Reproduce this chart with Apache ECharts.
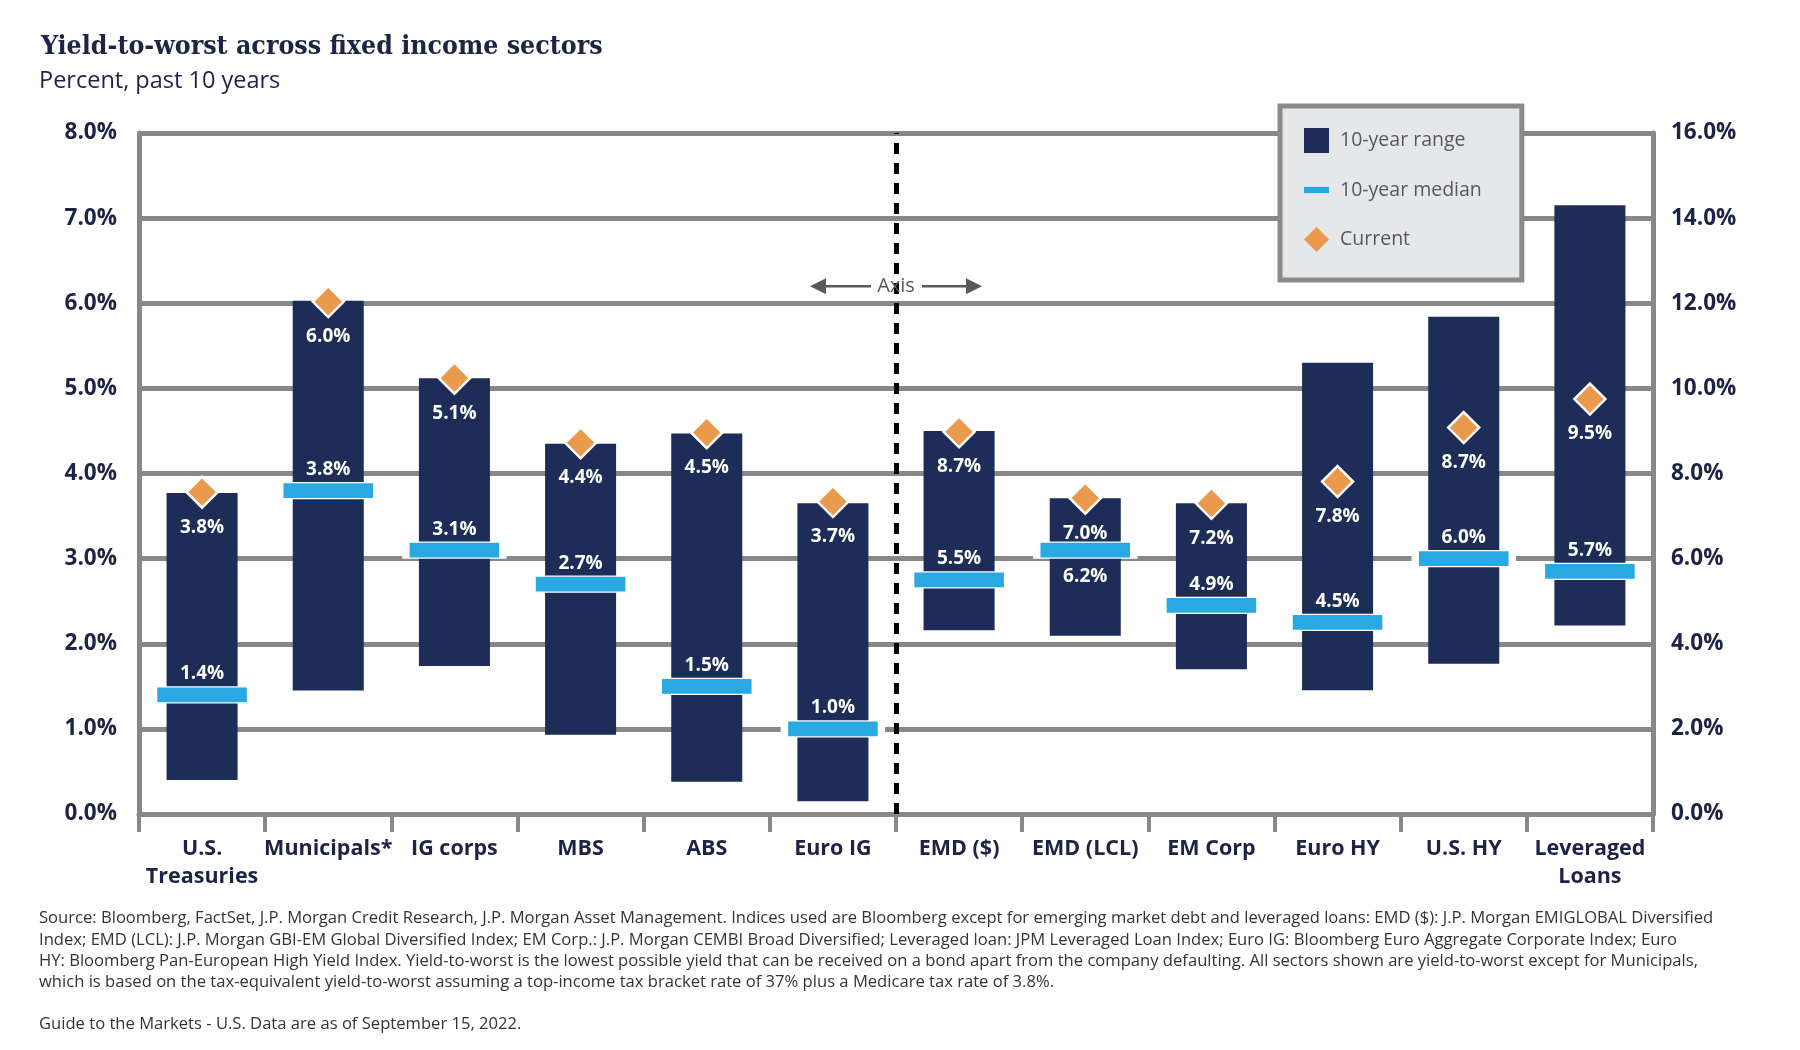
<!DOCTYPE html>
<html>
<head>
<meta charset="utf-8">
<script src="https://cdn.jsdelivr.net/npm/echarts@6/dist/echarts.min.js"></script>
<style>
html,body{margin:0;padding:0;background:#fff;}
#c{width:1800px;height:1050px;}
</style>
</head>
<body>
<div id="c"></div>
<script>
// ---- data ----
const categories = ['U.S.\nTreasuries','Municipals*','IG corps','MBS','ABS','Euro IG','EMD ($)','EMD (LCL)','EM Corp','Euro HY','U.S. HY','Leveraged\nLoans'];
const rangeLow  = [0.40, 1.45, 1.74, 0.93, 0.38, 0.15, 4.32, 4.19, 3.40, 2.91, 3.53, 4.43];
const rangeHigh = [3.77, 6.03, 5.12, 4.35, 4.47, 3.65, 9.00, 7.42, 7.30, 10.60, 11.68, 14.30];
const median    = [1.4, 3.8, 3.1, 2.7, 1.5, 1.0, 5.5, 6.2, 4.9, 4.5, 6.0, 5.7];
const currentMarker = [3.78, 6.02, 5.12, 4.36, 4.48, 3.67, 8.98, 7.42, 7.30, 7.81, 9.08, 9.75];
const currentLabel  = [3.8, 6.0, 5.1, 4.4, 4.5, 3.7, 8.7, 7.0, 7.2, 7.8, 8.7, 9.5];
const rightAxisStart = 6;           // categories from this index are read on the right axis
const leftAxisTicks  = [0, 1, 2, 3, 4, 5, 6, 7, 8];
const rightAxisTicks = [0, 2, 4, 6, 8, 10, 12, 14, 16];
const legendNames = ['10-year range', '10-year median', 'Current'];
const titleText = 'Yield-to-worst across fixed income sectors';
const subtitleText = 'Percent, past 10 years';
const footnoteLines = [
  'Source: Bloomberg, FactSet, J.P. Morgan Credit Research, J.P. Morgan Asset Management. Indices used are Bloomberg except for emerging market debt and leveraged loans: EMD ($): J.P. Morgan EMIGLOBAL Diversified',
  'Index; EMD (LCL): J.P. Morgan GBI-EM Global Diversified Index; EM Corp.: J.P. Morgan CEMBI Broad Diversified; Leveraged loan: JPM Leveraged Loan Index; Euro IG: Bloomberg Euro Aggregate Corporate Index; Euro',
  'HY: Bloomberg Pan-European High Yield Index. Yield-to-worst is the lowest possible yield that can be received on a bond apart from the company defaulting. All sectors shown are yield-to-worst except for Municipals,',
  'which is based on the tax-equivalent yield-to-worst assuming a top-income tax bracket rate of 37% plus a Medicare tax rate of 3.8%.',
  '',
  'Guide to the Markets - U.S. Data are as of September 15, 2022.'
];

// ---- styles ----
const FONT = '"Open Sans", "Noto Sans", sans-serif';
const NAVY = '#1d2d57';
const BLUE = '#29a9e1';
const ORANGE = '#ea9a4d';
const TEXT = '#1c2344';
const GRID = '#888888';
const medianBelow = new Set(['EMD (LCL)']);

const chart = echarts.init(document.getElementById('c'));

function sideIdx(side){
  const out = [];
  categories.forEach((c,i)=>{ if ((side===0 && i<rightAxisStart) || (side===1 && i>=rightAxisStart)) out.push(i); });
  return out;
}

function rangeSeries(side){
  return {
    name: legendNames[0], type: 'custom', yAxisIndex: side, z: 2,
    itemStyle: {color: NAVY},
    encode: {x: 0, y: [1, 2]},
    data: sideIdx(side).map(i => [i, rangeLow[i], rangeHigh[i]]),
    renderItem: function(params, api){
      const x = api.value(0);
      const top = api.coord([x, api.value(2)]);
      const bot = api.coord([x, api.value(1)]);
      const w = api.size([1, 0])[0] * 0.563;
      return {type:'rect', shape:{x: top[0]-w/2, y: top[1], width: w, height: bot[1]-top[1]},
              style:{fill: api.visual('color')}};
    }
  };
}
function medianSeries(side){
  return {
    name: legendNames[1], type: 'scatter', yAxisIndex: side, z: 3,
    symbol: 'rect', symbolSize: [97, 16],
    itemStyle: {color: BLUE, borderColor: '#fff', borderWidth: 3, opacity: 1},
    data: sideIdx(side).map(i => ({
      value: [i, median[i]],
      label: {offset: [0, medianBelow.has(categories[i]) ? 26 : -21]}
    })),
    label: {show: true, position: 'inside', color: '#fff', fontFamily: FONT, fontWeight: 'bold', fontSize: 19,
            formatter: p => median[p.value[0]].toFixed(1) + '%'},
    emphasis: {disabled: true}
  };
}
function currentSeries(side){
  return {
    name: legendNames[2], type: 'scatter', yAxisIndex: side, z: 4,
    symbol: 'diamond', symbolSize: [31, 31],
    itemStyle: {color: ORANGE, borderColor: '#fff', borderWidth: 2.5, opacity: 1},
    data: sideIdx(side).map(i => [i, currentMarker[i]]),
    label: {show: true, position: 'inside', offset: [0, 35], color: '#fff', fontFamily: FONT, fontWeight: 'bold', fontSize: 19,
            formatter: p => currentLabel[p.value[0]].toFixed(1) + '%'},
    emphasis: {disabled: true}
  };
}

const option = {
  animation: false,
  backgroundColor: '#fff',
  title: [
    {text: titleText, left: 36, top: 29,
     textStyle: {fontFamily: '"DejaVu Serif Condensed", "DejaVu Serif", serif', fontWeight: 'bold', fontSize: 26.5, color: '#1d2545'}},
    {text: subtitleText, left: 34, top: 64,
     textStyle: {fontFamily: FONT, fontWeight: 'normal', fontSize: 23.5, color: TEXT}},
    {text: footnoteLines.join('\n'), left: 34, top: 903,
     textStyle: {fontFamily: FONT, fontWeight: 'normal', fontSize: 16.6, lineHeight: 21.2, color: '#333333'}}
  ],
  legend: {
    orient: 'vertical', left: 1280, top: 106,
    backgroundColor: '#e6e7e8', borderColor: '#8a8a8a', borderWidth: 5, borderRadius: 0,
    padding: [22, 40, 28, 24],
    itemWidth: 25, itemHeight: 25, itemGap: 27,
    selectedMode: false,
    textStyle: {fontFamily: FONT, fontSize: 19.5, color: '#58595b', padding: [0, 0, 0, 6]},
    data: [
      {name: legendNames[0], icon: 'rect'},
      {name: legendNames[1], icon: 'path://M0 0H24V6H0Z', itemStyle: {borderWidth: 0}},
      {name: legendNames[2], icon: 'diamond', itemStyle: {borderWidth: 0}}
    ]
  },
  grid: {left: 139, right: 147, top: 133, bottom: 236, containLabel: false},
  xAxis: [
    {type: 'category', data: categories,
     axisLine: {show: true, lineStyle: {color: GRID, width: 5}},
     axisTick: {show: true, interval: 0, length: 18, lineStyle: {color: GRID, width: 4}},
     axisLabel: {interval: 0, margin: 21, color: TEXT, fontFamily: FONT, fontWeight: 'bold', fontSize: 21.5, lineHeight: 28},
     splitLine: {show: false}},
    {type: 'value', min: 0, max: categories.length, show: false}
  ],
  yAxis: [
    {type: 'value', min: leftAxisTicks[0], max: leftAxisTicks[leftAxisTicks.length-1], interval: leftAxisTicks[1]-leftAxisTicks[0],
     axisLine: {show: true, lineStyle: {color: GRID, width: 5}},
     axisTick: {show: false},
     splitLine: {show: true, lineStyle: {color: GRID, width: 5}},
     axisLabel: {margin: 22, color: TEXT, fontFamily: FONT, fontWeight: 'bold', fontSize: 22.5,
                 formatter: v => v.toFixed(1) + '%'}},
    {type: 'value', min: rightAxisTicks[0], max: rightAxisTicks[rightAxisTicks.length-1], interval: rightAxisTicks[1]-rightAxisTicks[0],
     position: 'right',
     axisLine: {show: true, lineStyle: {color: GRID, width: 5}},
     axisTick: {show: false},
     splitLine: {show: false},
     axisLabel: {margin: 18, color: TEXT, fontFamily: FONT, fontWeight: 'bold', fontSize: 22.5,
                 formatter: v => v.toFixed(1) + '%'}}
  ],
  series: [
    rangeSeries(0), rangeSeries(1),
    medianSeries(0), medianSeries(1),
    currentSeries(0), currentSeries(1),
    {type: 'line', xAxisIndex: 1, yAxisIndex: 0, data: [], silent: true,
     markLine: {silent: true, symbol: 'none', animation: false,
                label: {show: false},
                lineStyle: {color: '#000', width: 5, type: [11, 9]},
                data: [{xAxis: rightAxisStart}]}}
  ]
};
chart.setOption(option);

// "Axis" annotation placed through the chart's own scales
const xb = chart.convertToPixel({xAxisIndex: 1}, rightAxisStart);
const ya = chart.convertToPixel({yAxisIndex: 0}, 6.2);
const AG = '#58595b';
chart.setOption({
  graphic: [
    {type: 'text', x: xb, y: ya, z: 10,
     style: {text: 'Axis', fill: AG, font: '20px ' + FONT, textAlign: 'center', textVerticalAlign: 'middle'}},
    {type: 'line', z: 10, shape: {x1: xb-72, y1: ya, x2: xb-25, y2: ya}, style: {stroke: AG, lineWidth: 2.5}},
    {type: 'polygon', z: 10, shape: {points: [[xb-86, ya], [xb-70, ya-8], [xb-70, ya+8]]}, style: {fill: AG}},
    {type: 'line', z: 10, shape: {x1: xb+26, y1: ya, x2: xb+73, y2: ya}, style: {stroke: AG, lineWidth: 2.5}},
    {type: 'polygon', z: 10, shape: {points: [[xb+86, ya], [xb+70, ya-8], [xb+70, ya+8]]}, style: {fill: AG}}
  ]
});
</script>
</body>
</html>
